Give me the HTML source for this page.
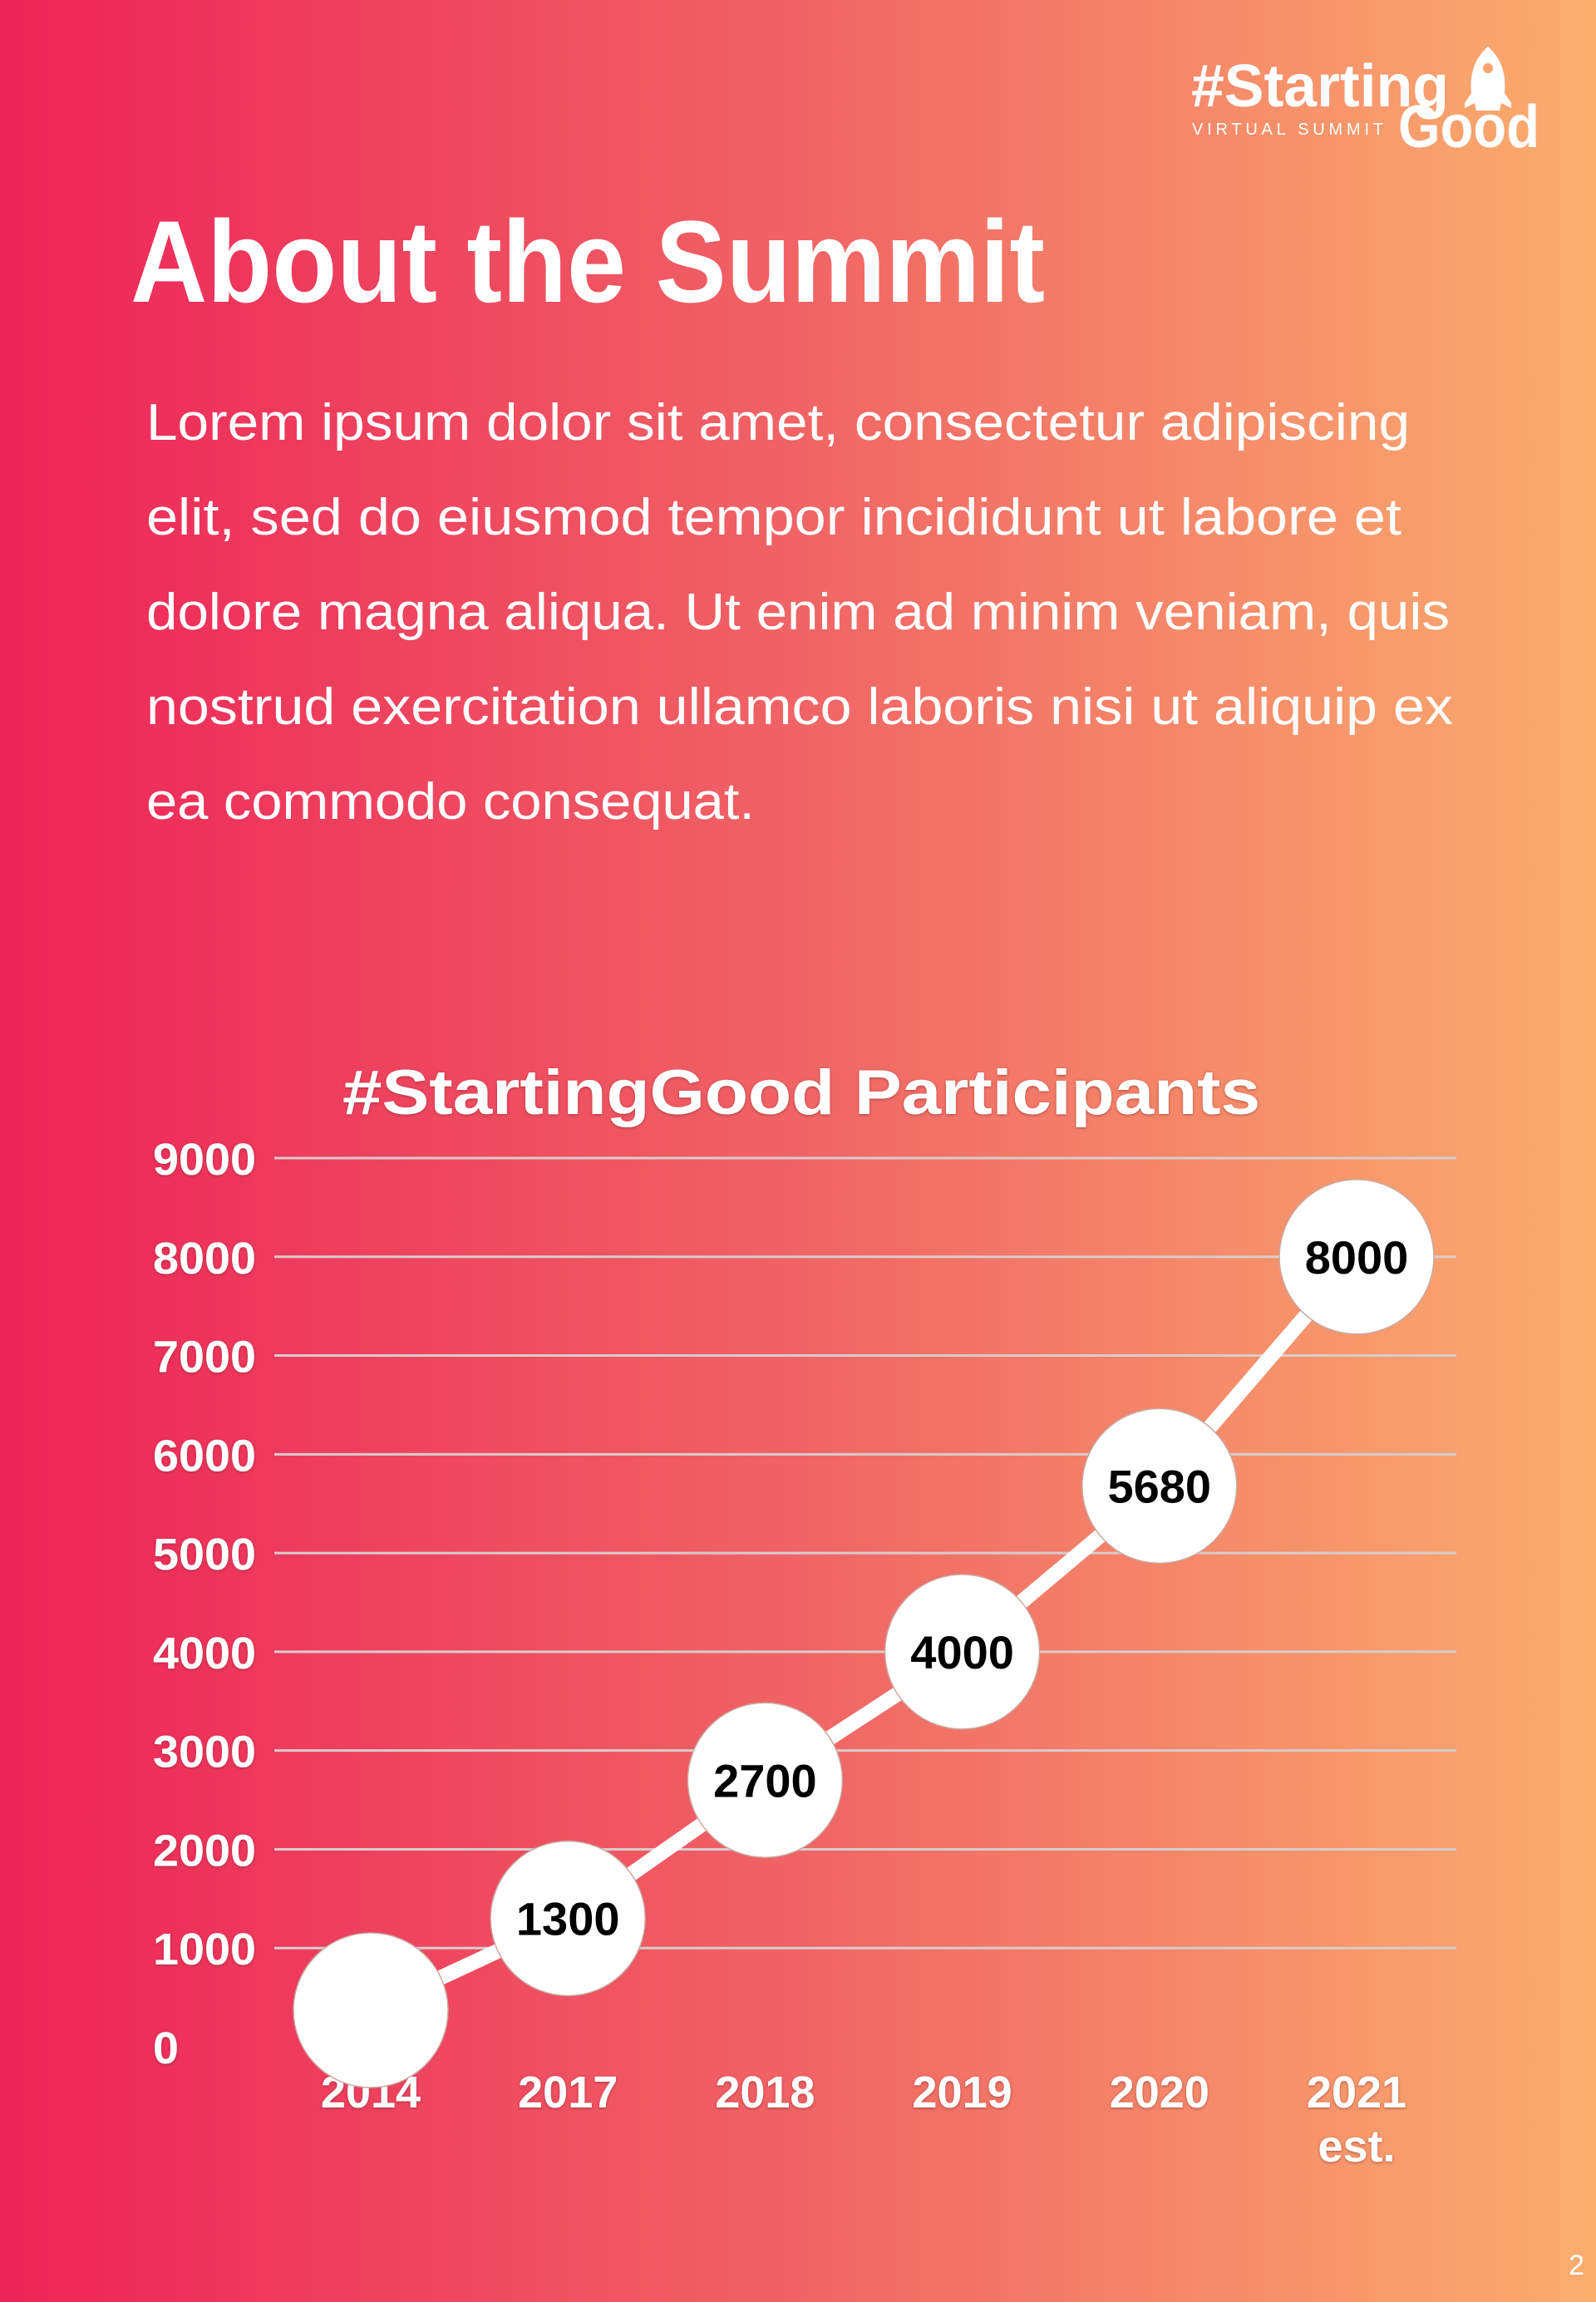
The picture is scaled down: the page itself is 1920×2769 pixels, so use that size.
<!DOCTYPE html>
<html><head><meta charset="utf-8"><style>
html,body{margin:0;padding:0;width:1920px;height:2769px;overflow:hidden}
svg{display:block}
</style></head><body>
<svg id="page" width="1920" height="2769" viewBox="0 0 1920 2769" xmlns="http://www.w3.org/2000/svg">
<defs>
<linearGradient id="bg" x1="0" y1="0" x2="1" y2="0">
<stop offset="0" stop-color="#ED2358"/>
<stop offset="0.5" stop-color="#F06465"/>
<stop offset="1" stop-color="#FAAE6E"/>
</linearGradient>
<filter id="sh" x="-20%" y="-20%" width="140%" height="140%"><feDropShadow dx="0" dy="1" stdDeviation="1.5" flood-color="#7a2a2a" flood-opacity="0.6"/></filter>
</defs>
<rect x="0" y="0" width="1920" height="2769" fill="url(#bg)"/>

<g fill="#fff" font-family="'Liberation Sans',sans-serif" font-weight="bold">
<text x="1433" y="128" font-size="72" textLength="310" lengthAdjust="spacingAndGlyphs">#Starting</text>
<text x="1434" y="162" font-size="20" font-weight="normal" textLength="230" lengthAdjust="spacing">VIRTUAL SUMMIT</text>
<text x="1682" y="177" font-size="72" textLength="170" lengthAdjust="spacingAndGlyphs">Good</text>
<path d="M1790 56 C1808 72 1812 92 1810 112 L1818 124 L1818 130 L1806 124 L1804 133 L1776 133 L1774 124 L1762 130 L1762 124 L1770 112 C1768 92 1772 72 1790 56 Z M1790 76 a6 6 0 1 0 0.1 0 Z" fill-rule="evenodd"/>
</g>

<text x="157" y="363" fill="#fff" font-family="'Liberation Sans',sans-serif" font-weight="bold" font-size="140" textLength="1100" lengthAdjust="spacingAndGlyphs">About the Summit</text>

<g fill="#fff" font-family="'Liberation Sans',sans-serif" font-size="62">
<text x="176" y="529" textLength="1520" lengthAdjust="spacingAndGlyphs">Lorem ipsum dolor sit amet, consectetur adipiscing</text>
<text x="176" y="643" textLength="1510" lengthAdjust="spacingAndGlyphs">elit, sed do eiusmod tempor incididunt ut labore et</text>
<text x="176" y="757" textLength="1568" lengthAdjust="spacingAndGlyphs">dolore magna aliqua. Ut enim ad minim veniam, quis</text>
<text x="176" y="871" textLength="1572" lengthAdjust="spacingAndGlyphs">nostrud exercitation ullamco laboris nisi ut aliquip ex</text>
<text x="176" y="985" textLength="732" lengthAdjust="spacingAndGlyphs">ea commodo consequat.</text>
</g>

<g id="chart">
<text x="964" y="1340" text-anchor="middle" fill="#fff" filter="url(#sh)" font-family="'Liberation Sans',sans-serif" font-weight="bold" font-size="76" textLength="1104" lengthAdjust="spacingAndGlyphs">#StartingGood Participants</text>
<g id="grid"></g>
<g id="yaxis"></g>
<g id="xaxis"></g>
<g id="series"></g>
</g>

<text x="1906" y="2736" text-anchor="end" fill="#fff" font-family="'Liberation Sans',sans-serif" font-size="34">2</text>
</svg>
<script>
const categories = ["2014","2017","2018","2019","2020","2021"];
const categorySub = ["","","","","","est."];
const values = [370,1300,2700,4000,5680,8000];
const valueLabels = ["","1300","2700","4000","5680","8000"];
const yTicks = [0,1000,2000,3000,4000,5000,6000,7000,8000,9000];

const NS = "http://www.w3.org/2000/svg";
const y0 = 2462, yTop = 1393, yMax = 9000;
const xLeft = 330, xRight = 1752;
const xFirst = 446, xStep = 237.2;
function yScale(v){ return y0 - (v / yMax) * (y0 - yTop); }
function xScale(i){ return xFirst + i * xStep; }
function mk(tag, attrs, parent){ const e = document.createElementNS(NS, tag); for (const k in attrs) e.setAttribute(k, attrs[k]); parent.appendChild(e); return e; }

const grid = document.getElementById('grid');
const yaxis = document.getElementById('yaxis');
yTicks.forEach(t => {
  const y = yScale(t);
  if (t > 0) {
    const l = mk('line', {x1: xLeft, x2: xRight, y1: y, y2: y, stroke: '#d8cccc', 'stroke-width': 3}, grid);
    
    
  }
  const s = String(t);
  const tx = mk('text', {x: 184, y: y + 20, fill: '#fff', filter: 'url(#sh)', 'font-family': "'Liberation Sans',sans-serif", 'font-weight': 'bold', 'font-size': 54, textLength: s.length * 31, lengthAdjust: 'spacingAndGlyphs'}, yaxis);
  tx.textContent = s;
  
  
});

const xaxis = document.getElementById('xaxis');
categories.forEach((c, i) => {
  const tx = mk('text', {x: xScale(i), y: 2535, 'text-anchor': 'middle', fill: '#fff', filter: 'url(#sh)', 'font-family': "'Liberation Sans',sans-serif", 'font-weight': 'bold', 'font-size': 54}, xaxis);
  tx.textContent = c;
  
  
  if (categorySub[i]) {
    const s = mk('text', {x: xScale(i), y: 2600, 'text-anchor': 'middle', fill: '#fff', filter: 'url(#sh)', 'font-family': "'Liberation Sans',sans-serif", 'font-weight': 'bold', 'font-size': 54}, xaxis);
    s.textContent = categorySub[i];
    
    
  }
});

const series = document.getElementById('series');
const pts = values.map((v, i) => xScale(i) + ',' + yScale(v)).join(' ');
const line = mk('polyline', {points: pts, fill: 'none', stroke: '#fff', 'stroke-width': 18, 'stroke-linejoin': 'round'}, series);


values.forEach((v, i) => {
  const c = mk('circle', {cx: xScale(i), cy: yScale(v), r: 93, fill: '#fff', stroke: '#c9a8a0', 'stroke-width': 1.5}, series);
  
  
  if (valueLabels[i]) {
    const t = mk('text', {x: xScale(i), y: yScale(v) + 20, 'text-anchor': 'middle', fill: '#000', 'font-family': "'Liberation Sans',sans-serif", 'font-weight': 'bold', 'font-size': 56}, series);
    t.textContent = valueLabels[i];
    
    
  }
});
</script>
</body></html>
